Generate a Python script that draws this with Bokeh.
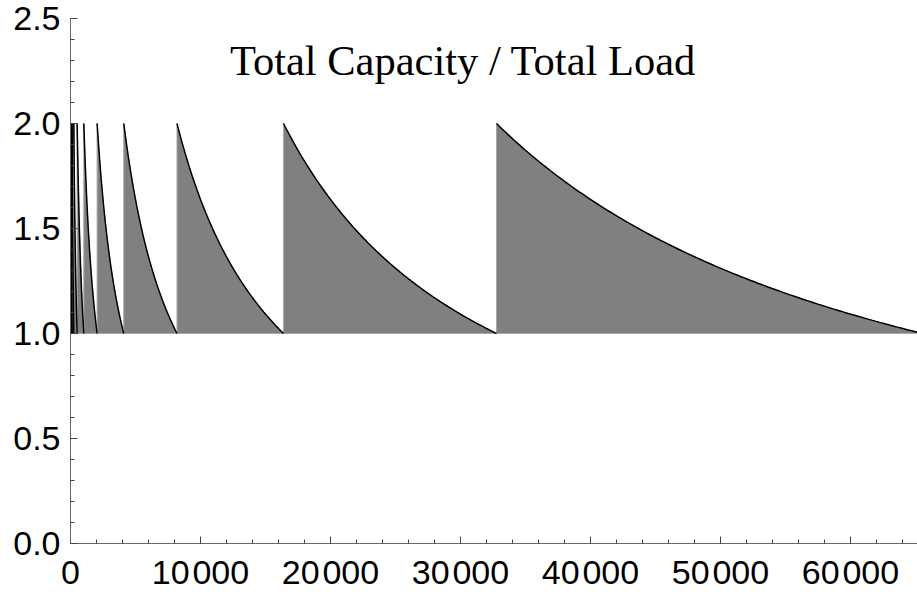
import numpy as np
from bokeh.plotting import figure
from bokeh.models import Range1d, Label, FixedTicker
from bokeh.embed import file_html
from bokeh.resources import INLINE

# Total capacity after each doubling; capacity doubles when the load reaches the old capacity
capacity = [2, 4, 8, 16, 32, 64, 128, 256, 512, 1024, 2048, 4096, 8192, 16384, 32768, 65536]

x_ticks = [0, 10000, 20000, 30000, 40000, 50000, 60000]
x_tick_labels = ["0", "10\u200a000", "20\u200a000", "30\u200a000", "40\u200a000", "50\u200a000", "60\u200a000"]
y_ticks = [0.0, 0.5, 1.0, 1.5, 2.0, 2.5]
y_tick_labels = ["0.0", "0.5", "1.0", "1.5", "2.0", "2.5"]
x_minor = list(range(0, 66001, 2000))
y_minor = [round(0.1 * i, 1) for i in range(0, 26)]

title_text = "Total Capacity / Total Load"

# For each capacity level, the load runs from half the capacity up to the capacity
seg_x, seg_y, fill_x, fill_y = [], [], [], []
for c in capacity:
    load = np.linspace(c / 2, c, 120)
    ratio = c / load
    seg_x.append(load.tolist())
    seg_y.append(ratio.tolist())
    fill_x.append([c / 2] + load.tolist())
    fill_y.append([1.0] + ratio.tolist())

p = figure(width=917, height=594, output_backend="svg", toolbar_location=None,
           x_range=Range1d(0, 65154), y_range=Range1d(0, 2.5),
           min_border_left=70, min_border_right=0, min_border_top=18, min_border_bottom=51)
p.outline_line_color = None
p.xgrid.visible = False
p.ygrid.visible = False
p.background_fill_color = "white"
p.border_fill_color = "white"

p.patches(fill_x, fill_y, fill_color="#808080", line_color="#a8a8a8", line_width=1)
p.multi_line(seg_x, seg_y, line_color="black", line_width=1.5)

p.xaxis.ticker = FixedTicker(ticks=x_ticks, minor_ticks=x_minor)
p.yaxis.ticker = FixedTicker(ticks=y_ticks, minor_ticks=y_minor)
p.xaxis.major_label_overrides = dict(zip(x_ticks, x_tick_labels))
p.yaxis.major_label_overrides = dict(zip(y_ticks, y_tick_labels))

for ax in (p.xaxis, p.yaxis):
    ax.axis_line_color = "#666666"
    ax.axis_line_width = 1
    ax.major_tick_line_color = "#444444"
    ax.minor_tick_line_color = "#444444"
    ax.major_tick_in = 7
    ax.major_tick_out = 0
    ax.minor_tick_in = 4
    ax.minor_tick_out = 0
    ax.major_label_text_font = "Liberation Sans"
    ax.major_label_text_font_size = "34px"
    ax.major_label_text_color = "black"

p.xaxis.major_label_standoff = 9
p.yaxis.major_label_standoff = 10

p.add_layout(Label(x=30192, y=2.30, text=title_text, text_align="center",
                   text_baseline="alphabetic", text_font="Liberation Serif",
                   text_font_size="42.5px", text_color="black"))

open("out.html", "w").write(file_html(p, INLINE))
